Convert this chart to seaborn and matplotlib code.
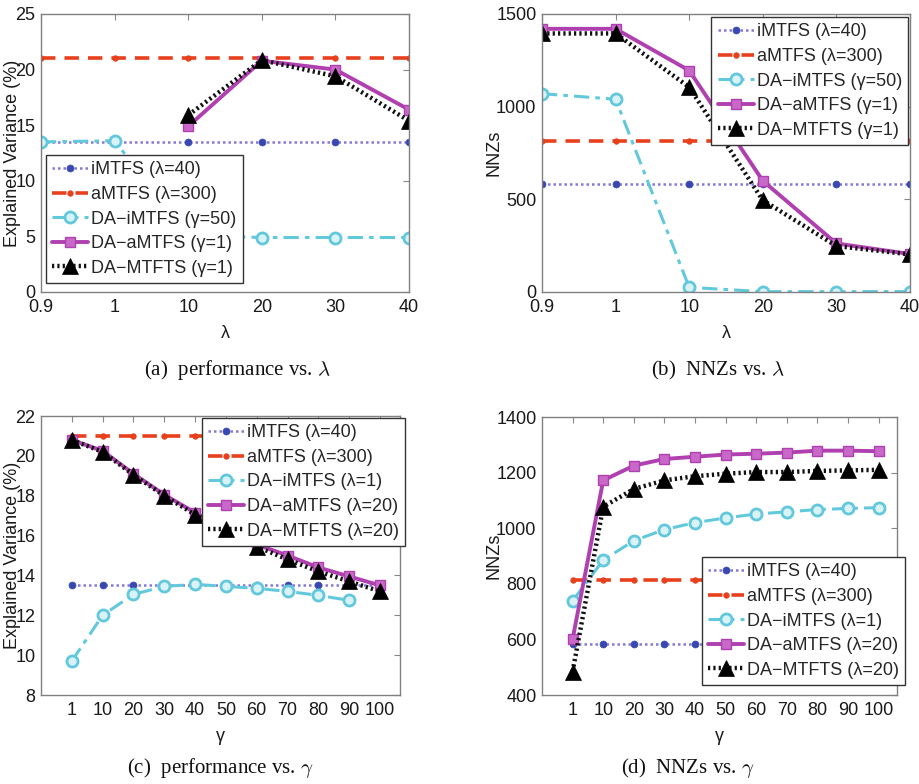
import numpy as np
import pandas as pd
import matplotlib
matplotlib.use("Agg")
import matplotlib.pyplot as plt
import seaborn as sns

sns.set_style("white")
plt.rcParams['font.family'] = ['Liberation Sans', 'DejaVu Sans']
plt.rcParams['mathtext.fontset'] = 'cm'

nan = np.nan
# ---------------- data ----------------
lam_labels = ['0.9', '1', '10', '20', '30', '40']
gam_labels = ['1', '10', '20', '30', '40', '50', '60', '70', '80', '90', '100']

a_imtfs = [13.5, 13.5, 13.5, 13.5, 13.5, 13.5]
a_amtfs = [21.0, 21.0, 21.0, 21.0, 21.0, 21.0]
a_da_imtfs = [13.5, 13.6, 5.1, 4.9, 4.9, 4.9]
a_da_amtfs = [nan, nan, 14.9, 20.8, 20.0, 16.4]
a_da_mtfts = [nan, nan, 15.9, 20.85, 19.4, 15.4]

b_imtfs = [585, 585, 585, 585, 585, 585]
b_amtfs = [815, 815, 815, 815, 815, 815]
b_da_imtfs = [1070, 1040, 25, 2, 2, 2]
b_da_amtfs = [1420, 1420, 1195, 600, 262, 205]
b_da_mtfts = [1395, 1395, 1105, 495, 248, 203]

c_imtfs = [13.5] * 11
c_amtfs = [21.0] * 11
c_da_imtfs = [9.7, 12.0, 13.05, 13.45, 13.55, 13.45, 13.35, 13.2, 13.0, 12.75, nan]
c_da_amtfs = [20.8, 20.25, 19.1, 18.05, 17.15, 16.3, 15.55, 15.0, 14.4, 13.95, 13.5]
c_da_mtfts = [20.8, 20.2, 19.05, 18.0, 17.05, 16.2, 15.45, 14.8, 14.2, 13.7, 13.2]

d_imtfs = [583] * 11
d_amtfs = [815] * 11
d_da_imtfs = [739, 885, 955, 995, 1020, 1037, 1051, 1059, 1067, 1071, 1074]
d_da_amtfs = [601, 1172, 1225, 1249, 1257, 1265, 1268, 1272, 1279, 1279, 1277]
d_da_mtfts = [484, 1077, 1141, 1172, 1187, 1196, 1202, 1202, 1206, 1208, 1210]

labels_lam = ['iMTFS (λ=40)', 'aMTFS (λ=300)', 'DA\u2212iMTFS (γ=50)',
              'DA\u2212aMTFS (γ=1)', 'DA\u2212MTFTS (γ=1)']
labels_gam = ['iMTFS (λ=40)', 'aMTFS (λ=300)', 'DA\u2212iMTFS (λ=1)',
              'DA\u2212aMTFS (λ=20)', 'DA\u2212MTFTS (λ=20)']

# ---------------- styles ----------------
styles = [
    dict(color='#8478d8', linestyle=(0, (1, 1.2)), linewidth=1.8, marker='o',
         markersize=5, markerfacecolor='#3848b0', markeredgecolor='#3848b0', markeredgewidth=0.5),
    dict(color='#e8401c', linestyle=(0, (4, 2.5)), linewidth=2.6, marker='o',
         markersize=4, markerfacecolor='#e8401c', markeredgecolor='#e8401c', markeredgewidth=0.5),
    dict(color='#62c8dc', linestyle=(0, (5, 2, 1.5, 2)), linewidth=2.2, marker='o',
         markersize=8, markerfacecolor='#d8f2f6', markeredgecolor='#62c8dc', markeredgewidth=2),
    dict(color='#b040b0', linestyle='-', linewidth=2.8, marker='s',
         markersize=7, markerfacecolor='#c868c8', markeredgecolor='#b040b0', markeredgewidth=1),
    dict(color='#111111', linestyle=(0, (0.5, 0.7)), linewidth=3.2, marker='^',
         markersize=11, markerfacecolor='black', markeredgecolor='black', markeredgewidth=0.5),
]

fig = plt.figure(figsize=(9.2, 7.84), dpi=100)

W, H = 920.0, 784.0
def add_ax(l, r, t, b):
    return fig.add_axes([l / W, 1 - b / H, (r - l) / W, (b - t) / H])

ax_a = add_ax(41, 409, 14, 292)
ax_b = add_ax(542, 910, 14, 292)
ax_c = add_ax(41, 400, 416, 695)
ax_d = add_ax(542, 897, 417, 695)

def draw(ax, xlabels, series, labels, xlim, ylim, yticks, ylabel, xlabel,
         ylab_x, leg_loc, leg_anchor):
    x = np.arange(len(xlabels))
    for vals, lab, st in zip(series, labels, styles):
        df = pd.DataFrame({'x': x, 'y': vals}).dropna()
        sns.lineplot(data=df, x='x', y='y', ax=ax, label=lab, estimator=None,
                     sort=False, **st)
    ax.set_xlim(*xlim)
    ax.set_ylim(*ylim)
    ax.set_xticks(x)
    ax.set_xticklabels(xlabels)
    ax.set_yticks(yticks)
    ax.set_yticklabels([str(v) for v in yticks])
    ax.tick_params(direction='in', top=True, right=True, length=4, width=0.8,
                   labelsize=13, colors='#888888', labelcolor='#1a1a1a', pad=4)
    ax.tick_params(axis='x', pad=5)
    for s in ax.spines.values():
        s.set_color('#808080')
        s.set_linewidth(1.0)
    ax.set_ylabel(ylabel, fontsize=13, color='#1a1a1a')
    ax.set_xlabel(xlabel, fontsize=13, color='#1a1a1a')
    ax.yaxis.set_label_coords(ylab_x, 0.5)
    ax.xaxis.set_label_coords(0.5, -0.118)
    leg = ax.legend(loc=leg_loc, bbox_to_anchor=leg_anchor, borderaxespad=0,
                    fontsize=13, frameon=True, fancybox=False, framealpha=1,
                    edgecolor='#333333', handlelength=2.0, handletextpad=0.15,
                    labelspacing=0.42, borderpad=0.35)
    leg.get_frame().set_linewidth(1.0)
    leg.set_zorder(10)

draw(ax_a, lam_labels, [a_imtfs, a_amtfs, a_da_imtfs, a_da_amtfs, a_da_mtfts],
     labels_lam, (0, 5), (0, 25), [0, 5, 10, 15, 20, 25],
     'Explained Variance (%)', 'λ', -0.055, 'lower left', (0.0136, 0.032))
draw(ax_b, lam_labels, [b_imtfs, b_amtfs, b_da_imtfs, b_da_amtfs, b_da_mtfts],
     labels_lam, (0, 5), (0, 1500), [0, 500, 1000, 1500],
     'NNZs', 'λ', -0.106, 'upper right', (0.995, 0.989))
draw(ax_c, gam_labels, [c_imtfs, c_amtfs, c_da_imtfs, c_da_amtfs, c_da_mtfts],
     labels_gam, (-1, 10.65), (8, 22), [8, 10, 12, 14, 16, 18, 20, 22],
     'Explained Variance (%)', 'γ', -0.057, 'upper right', (1.014, 0.993))
draw(ax_d, gam_labels, [d_imtfs, d_amtfs, d_da_imtfs, d_da_amtfs, d_da_mtfts],
     labels_gam, (-1, 10.6), (400, 1400), [400, 600, 800, 1000, 1200, 1400],
     'NNZs', 'γ', -0.11, 'lower right', (1.023, 0.036))

cap_kw = dict(fontsize=15, family='Liberation Serif', ha='center', va='center', color='#111111')
fig.text(237 / W, 1 - 370 / H, '(a)  performance vs. $\\lambda$', **cap_kw)
fig.text(718 / W, 1 - 370 / H, '(b)  NNZs vs. $\\lambda$', **cap_kw)
fig.text(220 / W, 1 - 768 / H, '(c)  performance vs. $\\gamma$', **cap_kw)
fig.text(688 / W, 1 - 768 / H, '(d)  NNZs vs. $\\gamma$', **cap_kw)

fig.savefig('out.png', dpi=100)
